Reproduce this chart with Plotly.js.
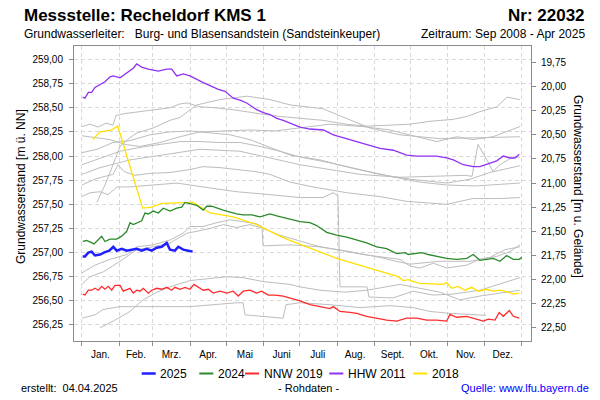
<!DOCTYPE html>
<html><head><meta charset="utf-8">
<script src="https://cdn.plot.ly/plotly-3.0.1.min.js"></script>
<style>html,body{margin:0;padding:0;background:#fff}#chart{width:600px;height:400px}</style>
</head><body><div id="chart"></div>
<script>
// ---------- axis data ----------
const MONTH_STARTS = [0,31,59,90,120,151,181,212,243,273,304,334,365];
const MONTH_MIDS = [15.5,45,74.5,105,135.5,166,196,227,258,288.5,319,349.5];
const MONTH_LABELS = ['Jan.','Feb.','Mrz.','Apr.','Mai','Juni','Juli','Aug.','Sept.','Okt.','Nov.','Dez.'];
const LEFT_TICKS = [256.25,256.5,256.75,257,257.25,257.5,257.75,258,258.25,258.5,258.75,259];
const RIGHT_TICKS = [19.75,20,20.25,20.5,20.75,21,21.25,21.5,21.75,22,22.25,22.5];
const GROUND = 278.72;       // Geländehöhe [m ü. NN]
const Y_MIN = 256.084, Y_MAX = 259.14;
const X_MIN = -6.4, X_MAX = 373;

// ---------- highlighted series (day of year, level m ü. NN) ----------
const day2025 = [0.8,2.7,5.5,8.3,11,15.2,19.3,22.9,26.2,29.1,33.2,37.4,41.5,45.7,49.8,54,58.1,62.3,66.4,70.6,73.3,77.4,80.2,84.3,88.5,92.1];
const lev2025 = [256.96,256.96,257.00,257.01,256.97,256.98,257.005,257.02,257.06,257.02,257.04,257.02,257.03,257.04,257.02,257.04,257.02,257.05,257.06,257.10,257.03,257.02,257.06,257.03,257.02,257.01];

const day2024 = [0.8,4.2,10.2,13.8,16.6,19.3,23.5,29.1,33.2,37.4,40.1,42.8,47,49.8,52.5,55.3,59.4,63.6,67.7,73.3,78.9,83,85.8,89.9,95.5,100.9,103.8,107.9,112.1,117.5,123.1,128.7,134.1,141.1,148,156.3,161.9,168.8,172.9,181.2,189.5,195.1,203.4,211.7,220,228.3,236.6,244.9,253.2,261.5,268.4,271.1,275.3,282.2,287.7,294.7,303,311.3,319.6,325.1,330.6,336.2,341.7,347.2,352.8,358.3,363.3,365.5];
const lev2024 = [257.115,257.125,257.09,257.13,257.17,257.115,257.14,257.14,257.17,257.22,257.31,257.29,257.31,257.33,257.41,257.40,257.43,257.41,257.46,257.43,257.46,257.47,257.52,257.51,257.49,257.44,257.48,257.48,257.46,257.44,257.42,257.40,257.39,257.39,257.37,257.40,257.38,257.36,257.35,257.32,257.31,257.28,257.21,257.18,257.16,257.13,257.10,257.06,257.04,256.99,257.00,256.98,256.99,257.00,256.98,256.96,256.94,256.93,256.94,256.98,256.92,256.93,256.94,256.91,256.97,256.93,256.93,256.95];

const dayNNW2019 = [0.8,2.7,5.5,8.3,11,13.8,16.6,19.3,22.1,24.9,27.6,31.8,34.5,37.4,40.1,42.8,45.7,48.4,51.1,55.3,58.1,62.3,66.4,70.6,74.7,77.4,81.6,85.8,89.9,93.2,96.8,100.9,105.1,109.2,114.8,120.4,125.8,130,134.1,139.7,145.3,149.4,154.9,160.5,167.3,172.9,181.2,189.5,197.8,206.1,208.9,214.4,222.7,228.3,236.6,244.9,253.2,261.5,269.8,278.1,286.4,294.7,303,305.7,311.3,319.6,325.1,333.4,337.5,343.1,346.6,350,355,358.3,363.3];
const levNNW2019 = [256.57,256.56,256.61,256.61,256.63,256.61,256.65,256.62,256.65,256.61,256.66,256.66,256.60,256.62,256.63,256.58,256.61,256.60,256.63,256.58,256.61,256.63,256.62,256.64,256.61,256.64,256.62,256.64,256.62,256.67,256.64,256.61,256.62,256.58,256.60,256.58,256.60,256.55,256.60,256.61,256.58,256.60,256.56,256.56,256.55,256.53,256.50,256.46,256.44,256.42,256.44,256.39,256.38,256.37,256.34,256.32,256.30,256.29,256.32,256.32,256.30,256.30,256.29,256.36,256.33,256.34,256.32,256.29,256.31,256.30,256.38,256.34,256.40,256.34,256.32];

const dayHHW2011 = [0.8,2.7,5.5,8.3,11,15.2,19.3,23.5,26.2,31.8,37.4,42.8,45.7,49.8,55.3,59.4,63.6,70.6,74.7,78.9,84.3,89.9,95.5,100.9,106.5,113.4,119,125.8,131.4,137,145.3,150.7,156.3,161.9,167.3,172.9,181.2,189.5,200.6,208.9,214.4,222.7,231,239.3,247.6,258.7,269.8,278.1,286.4,294.7,303,308.5,316.8,325.1,330.6,339,344.5,350,355.6,359.7,363.3];
const levHHW2011 = [258.61,258.60,258.66,258.66,258.71,258.74,258.77,258.82,258.83,258.81,258.86,258.91,258.955,258.92,258.90,258.89,258.88,258.90,258.90,258.83,258.85,258.83,258.79,258.76,258.73,258.69,258.67,258.60,258.58,258.55,258.48,258.45,258.43,258.39,258.37,258.34,258.30,258.28,258.27,258.22,258.20,258.17,258.14,258.11,258.08,258.06,258.01,258.00,258.00,258.00,257.98,257.96,257.91,257.89,257.89,257.93,257.95,258.00,257.98,257.98,258.02];

const day2018 = [9.1,15.2,20.8,24.9,29.9,50.6,58.1,66.4,92.6,106.5,125.8,145.3,164.6,172.3,211.7,262.8,267,271.1,275.3,280.8,300.2,303,307.1,312.6,318.2,323.7,329.2,336.2,341.7,347.2,354.1,358.3,363.3];
const lev2018 = [258.17,258.25,258.26,258.27,258.31,257.46,257.47,257.51,257.52,257.41,257.37,257.29,257.17,257.13,256.94,256.75,256.71,256.72,256.70,256.68,256.67,256.69,256.63,256.65,256.61,256.64,256.60,256.62,256.60,256.61,256.59,256.57,256.58];

// ---------- other years (grey) ----------
const grayDay1 = [0.2,6.9,13.5,20.2,26,28.5,35.9,48.4,60.8,73.3,81.6,87.4,98.2,110.6,125.6,139.7,152.2,164.6,181.2,200.3,219.4,236.8,255.9,272.5,289.1,308.2,319.8,330.6,344.7,353,363.8];
const grayLev1 = [258.305,258.33,258.30,258.34,258.32,258.42,258.44,258.46,258.48,258.50,258.54,258.55,258.51,258.50,258.48,258.45,258.43,258.41,258.39,258.37,258.33,258.31,258.32,258.33,258.36,258.38,258.41,258.46,258.51,258.61,258.585];
const grayDay2 = [12.5,19.3,26,31.8,40.1,45.9,59.2,73.3,81.6,89.9,95.7,114.8,137.2,156.3,172.9,200.3,218.6,239.3,264.2,297.4,330.6,363.8];
const grayLev2 = [257.52,257.70,257.91,258.10,258.19,258.24,258.29,258.37,258.40,258.48,258.53,258.585,258.62,258.585,258.53,258.49,258.40,258.29,258.22,258.18,258.19,258.20];
const grayDay3 = [0.2,11,23.5,35.9,48.4,65,81.6,98.2,118.9,139.7,160.5,181.2,206.1,233.5,255.9,275,294.9,311.5,324.8,341.4,363.8];
const grayLev3 = [258.21,258.19,258.17,258.12,258.10,258.14,258.20,258.25,258.26,258.27,258.26,258.29,258.33,258.305,258.27,258.21,258.15,258.20,258.17,258.20,258.305];
const grayDay4 = [0.2,12.7,26,40.1,56.7,73.3,89.9,106.5,123.1,139.7,156.3,172.9,197.8,222.7,247.6,272.5,303.2,322.3,338.9,355.5,363.8];
const grayLev4 = [258.035,258.07,258.14,258.16,258.22,258.25,258.26,258.24,258.22,258.17,258.09,258.01,257.96,257.88,257.81,257.76,257.72,257.76,257.83,257.88,257.90];
const grayDay5 = [0.2,15.2,31.8,48.4,65,81.6,98.2,114.8,131.4,148,164.6,181.2,206.1,231,255.9,280.8,303.2,326.4,347.2,363.8];
const grayLev5 = [257.91,257.98,258.05,258.09,258.12,258.15,258.15,258.14,258.14,258.10,258.05,257.99,257.93,257.86,257.79,257.73,257.70,257.69,257.71,257.72];
const grayDay6 = [0.2,11,19.3,26,30.1,35.1,44.2,56.7,73.3,89.9,100.7,114.8,128.9,143.9,156.3,172.9,192,220.2,247.6,270,303.2,324.8,347.2,363.8];
const grayLev6 = [257.70,257.76,257.79,257.81,257.91,257.84,257.80,257.82,257.83,257.86,257.89,257.88,257.86,257.84,257.81,257.73,257.68,257.62,257.58,257.53,257.50,257.56,257.56,257.57];
const grayDay7 = [0.2,6.9,15.2,21.8,29.3,40.1,59.2,79.1,100.7,128.9,156.3,181.2,200.3,208.6,212.7,214.4,236.8,238.5,258.4,275,291.6,308.2,330.6,353,363.8];
const grayLev7 = [257.58,257.62,257.63,257.60,257.68,257.68,257.70,257.72,257.68,257.63,257.60,257.57,257.57,257.62,257.59,256.645,256.645,256.54,256.53,256.60,256.56,256.57,256.61,256.70,256.74];
const grayDay8 = [0.2,15.2,40.1,65,98.2,131.4,164.6,181.2,206.1,231,264.2,303.2,318.2,324,329,336.4,341.4,347.2,358,363.8];
const grayLev8 = [257.81,257.88,257.96,258.01,258.07,258.05,257.96,257.91,257.86,257.81,257.78,257.80,257.80,257.79,258.12,257.96,257.84,257.91,257.99,257.99];
const grayDay9 = [0,6.9,17.9,31.8,45.7,59.4,73.3,87.2,95.5,106.5,117.5,128.7,139.7,150.7,164.6,181.2,197.8,211.7,233.5,264.2,272.5,280.8,291.9,303,319.6,330.6,344.5,355.5,363.8];
const grayLev9 = [256.67,256.75,256.80,256.91,257.03,257.06,257.10,257.20,257.22,257.25,257.29,257.26,257.29,257.25,257.18,257.12,257.06,257.03,256.98,256.93,256.86,256.84,256.89,256.84,256.87,256.93,256.96,257.01,257.08];
const grayDay10 = [0.2,11,23.5,37.6,45.9,59.2,73.3,84.1,89.9,100.7,112.3,123.1,133.9,144.7,149.7,150.5,172.9,197.8,222.7,247.6,260.9,272.5,297.4,322.3,338.9,351.4,363.8];
const grayLev10 = [256.79,256.87,256.93,256.98,257.06,257.08,257.13,257.20,257.27,257.27,257.31,257.34,257.32,257.30,257.27,257.07,257.08,257.06,257.01,256.95,256.91,256.88,256.91,256.91,256.95,257.03,257.06];
const grayDay11 = [15.2,27.6,40.1,50.9,62.5,73.3,89.9,106.5,120.6,133.9,150.5,172.9,181.2,197.8,218.6,236.8,251.7,264.2,280.8,297.4,314,330.6,347.2,363.8];
const grayLev11 = [256.22,256.30,256.39,256.51,256.59,256.645,256.71,256.73,256.75,256.74,256.70,256.67,256.645,256.61,256.59,256.61,256.645,256.67,256.63,256.59,256.51,256.55,256.58,256.61];
const grayDay12 = [0.2,11,17.7,31.8,56.7,89.9,128.9,133.9,135.6,167.1,169.6,181.2,206.1,231,255.9,275,289.1,305.7,335.6];
const grayLev12 = [256.32,256.355,256.41,256.44,256.44,256.44,256.48,256.48,256.355,256.32,256.46,256.48,256.46,256.43,256.45,256.43,256.39,256.37,256.35];

const GRAY_DAYS = [grayDay1,grayDay2,grayDay3,grayDay4,grayDay5,grayDay6,grayDay7,grayDay8,grayDay9,grayDay10,grayDay11,grayDay12];
const GRAY_LEVELS = [grayLev1,grayLev2,grayLev3,grayLev4,grayLev5,grayLev6,grayLev7,grayLev8,grayLev9,grayLev10,grayLev11,grayLev12];

const SERIES_NAMES = ['2025','2024','NNW 2019','HHW 2011','2018'];
const SERIES_DAYS = [day2025, day2024, dayNNW2019, dayHHW2011, day2018];
const SERIES_LEVELS = [lev2025, lev2024, levNNW2019, levHHW2011, lev2018];

// ---------- styles / layout constants ----------
const COLORS = ['#1f1fff','#2b8a2b','#ff2b2b','#9130f5','#ffe000'];
const WIDTHS = [2.5, 1.3, 1.3, 1.3, 1.3];
const LEGEND_LINE_PX = [141.7, 199.3, 245, 329.3, 413.3];   // legend sample start (px)
const GRAY = '#bdbdbd';
const FONT = 'Liberation Sans, Arial, sans-serif';
const PLOT_L = 74, PLOT_W = 457, PLOT_B = 341, PLOT_H = 295;
const px2x = p => (p - PLOT_L) / PLOT_W;
const px2y = p => (PLOT_B - p) / PLOT_H;

const traces = [];
GRAY_DAYS.forEach((d, i) => {
  traces.push({x: d, y: GRAY_LEVELS[i], type: 'scatter', mode: 'lines',
    line: {color: GRAY, width: 1}, showlegend: false, hoverinfo: 'skip'});
});
[4,3,2,1,0].forEach(i => {
  traces.push({x: SERIES_DAYS[i], y: SERIES_LEVELS[i], name: SERIES_NAMES[i],
    type: 'scatter', mode: 'lines', line: {color: COLORS[i], width: WIDTHS[i]},
    showlegend: false});
});
// depth axis carrier (invisible)
traces.push({x: day2025, y: lev2025.map(v => GROUND - v), yaxis: 'y2', type: 'scatter',
  mode: 'lines', line: {color: 'rgba(0,0,0,0)', width: 0}, showlegend: false, hoverinfo: 'skip'});

const axisLine = '#8c8c8c';
const gridCol = '#d9d9d9';

const annotations = [
  {text: '<b>Messstelle: Recheldorf KMS 1</b>', x: px2x(22), y: px2y(15.5), xanchor: 'left', font: {size: 17}},
  {text: '<b>Nr: 22032</b>', x: px2x(587), y: px2y(15.5), xanchor: 'right', font: {size: 17}},
  {text: 'Grundwasserleiter:\u00a0\u00a0\u00a0Burg- und Blasensandstein (Sandsteinkeuper)', x: px2x(22), y: px2y(34), xanchor: 'left', font: {size: 12}},
  {text: 'Zeitraum: Sep 2008 - Apr 2025', x: px2x(587), y: px2y(34), xanchor: 'right', font: {size: 12}},
  {text: 'Grundwasserstand [m ü. NN]', x: px2x(21), y: px2y(187), textangle: -90, xanchor: 'center', font: {size: 12}},
  {text: 'Grundwasserstand [m u. Gelände]', x: px2x(578), y: px2y(186), textangle: 90, xanchor: 'center', font: {size: 12}},
  {text: 'erstellt:\u00a0\u00a004.04.2025', x: px2x(19), y: px2y(388), xanchor: 'left', font: {size: 11}},
  {text: '- Rohdaten -', x: px2x(308), y: px2y(388), xanchor: 'center', font: {size: 11}},
  {text: 'Quelle: www.lfu.bayern.de', x: px2x(591), y: px2y(388), xanchor: 'right', font: {size: 11, color: '#0000ff'}}
].map(a => Object.assign({xref: 'paper', yref: 'paper', yanchor: 'middle', showarrow: false}, a,
  {font: Object.assign({family: FONT, color: '#000'}, a.font)}));

const shapes = [];
SERIES_NAMES.forEach((n, i) => {
  const x0 = LEGEND_LINE_PX[i];
  shapes.push({type: 'line', xref: 'paper', yref: 'paper', x0: px2x(x0), x1: px2x(x0 + 14),
    y0: px2y(373.5), y1: px2y(373.5), line: {color: COLORS[i], width: i === 0 ? 2.5 : 2}});
  annotations.push({text: n, xref: 'paper', yref: 'paper', x: px2x(x0 + 16.5), y: px2y(373.5),
    xanchor: 'left', yanchor: 'middle', showarrow: false, font: {family: FONT, size: 12, color: '#000'}});
});

const layout = {
  width: 600, height: 400,
  margin: {l: 74, r: 69, t: 46, b: 59},
  paper_bgcolor: '#fff', plot_bgcolor: '#fff',
  separators: ',.',
  font: {family: FONT, color: '#000', size: 11},
  showlegend: false,
  xaxis: {
    range: [X_MIN, X_MAX], tickmode: 'array', tickvals: MONTH_MIDS, ticktext: MONTH_LABELS,
    ticks: 'outside', ticklen: 4, tickcolor: 'rgba(0,0,0,0)', showgrid: false, zeroline: false,
    tickfont: {size: 10, family: FONT},
    showline: true, mirror: true, linecolor: axisLine, linewidth: 1,
    minor: {tickmode: 'array', tickvals: MONTH_STARTS, ticks: 'outside', ticklen: 4,
      tickcolor: axisLine, showgrid: true, gridcolor: gridCol, griddash: '4px,3px', gridwidth: 1}
  },
  yaxis: {
    range: [Y_MIN, Y_MAX], tickmode: 'array', tickvals: LEFT_TICKS, tickformat: '.2f',
    ticks: 'outside', ticklen: 4, tickcolor: axisLine, ticklabelstandoff: 4,
    showgrid: true, gridcolor: gridCol, griddash: '4px,3px', zeroline: false,
    tickfont: {size: 10, family: FONT},
    showline: true, mirror: true, linecolor: axisLine, linewidth: 1
  },
  yaxis2: {
    overlaying: 'y', side: 'right', range: [GROUND - Y_MIN, GROUND - Y_MAX],
    tickmode: 'array', tickvals: RIGHT_TICKS, tickformat: '.2f',
    ticks: 'outside', ticklen: 4, tickcolor: axisLine, ticklabelstandoff: 3,
    showgrid: false, zeroline: false, tickfont: {size: 10, family: FONT},
    showline: true, linecolor: axisLine, linewidth: 1
  },
  annotations: annotations,
  shapes: shapes
};

Plotly.newPlot('chart', traces, layout, {displayModeBar: false, staticPlot: true});
</script></body></html>
